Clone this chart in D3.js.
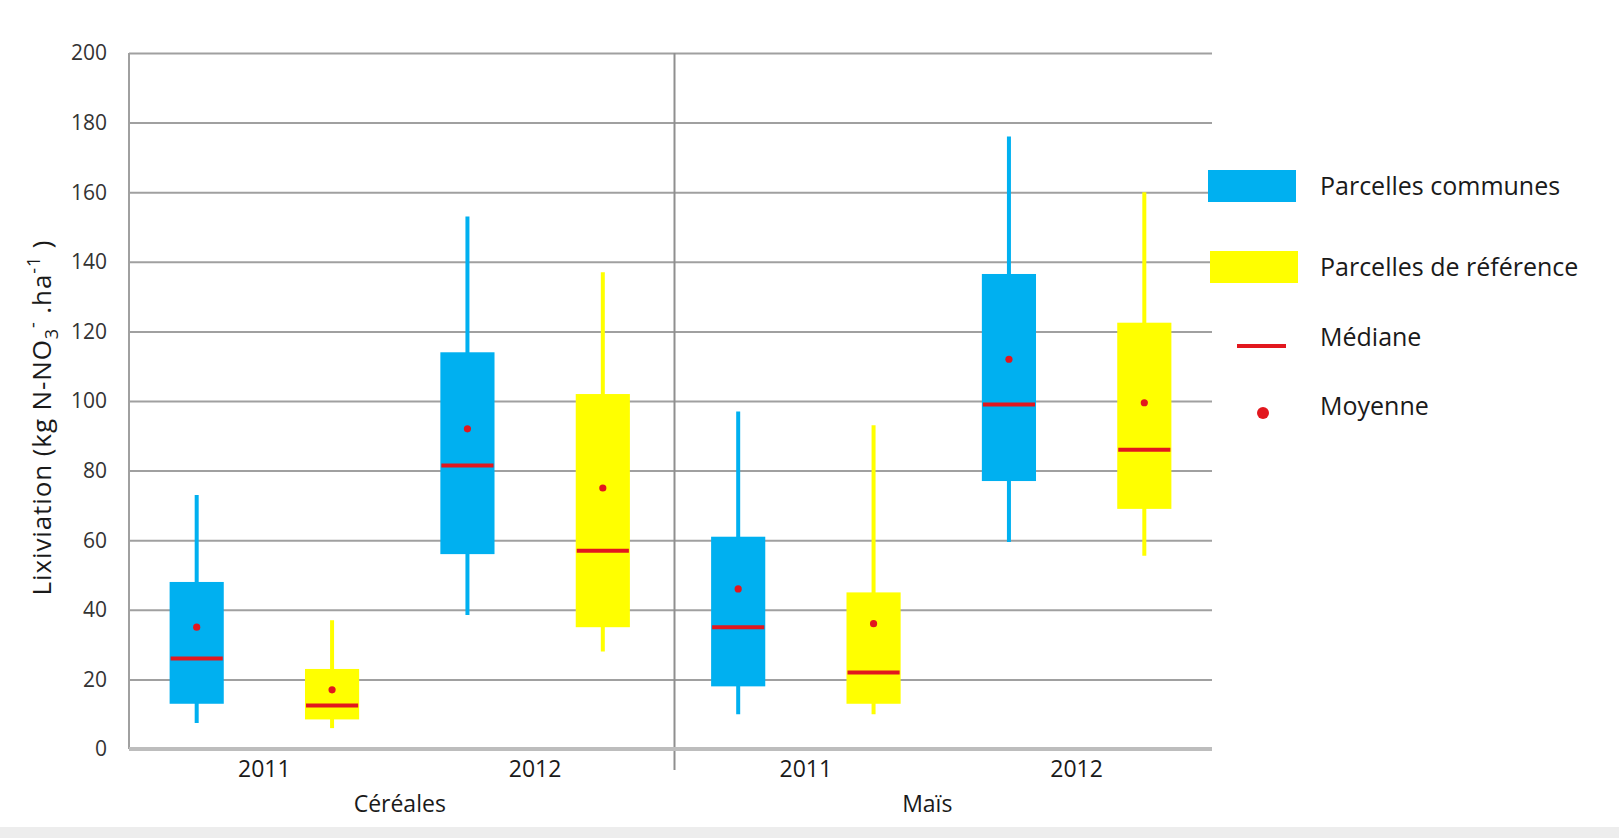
<!DOCTYPE html>
<html>
<head>
<meta charset="utf-8">
<script src="https://cdn.jsdelivr.net/npm/d3@7"></script>
<style>
  html, body { margin: 0; padding: 0; background: #fff; overflow: hidden; }
  svg { display: block; }
</style>
</head>
<body>
<div class="chart-div"></div>
<script>
// categories
var groups = ["Céréales", "Maïs"];
var years = ["2011", "2012"];
var series = ["Parcelles communes", "Parcelles de référence"];
var legendLabels = ["Parcelles communes", "Parcelles de référence", "Médiane", "Moyenne"];
var yTickValues = [0, 20, 40, 60, 80, 100, 120, 140, 160, 180, 200];

// one value per box: Céréales 2011 (communes, référence), Céréales 2012, Maïs 2011, Maïs 2012
var boxMin    = [7.5, 6,    38.5, 28,  10, 10, 59.5, 55.5];
var boxQ1     = [13,  8.5,  56,   35,  18, 13, 77,   69];
var boxMedian = [26,  12.5, 81.5, 57,  35, 22, 99,   86];
var boxQ3     = [48,  23,   114,  102, 61, 45, 136.5, 122.5];
var boxMax    = [73,  37,   153,  137, 97, 93, 176,  160];
var boxMean   = [35,  17,   92,   75,  46, 36, 112,  99.5];

var colors = {"Parcelles communes": "#00b0f0", "Parcelles de référence": "#ffff00"};
var red = "#e2171e";
var font = "'Open Sans', 'DejaVu Sans', sans-serif";

var width = 1619, height = 838;
var margin = {left: 129, top: 53, right: 407, bottom: 89};
var innerWidth = width - margin.left - margin.right;
var innerHeight = height - margin.top - margin.bottom;

// build the table the scales need
var cats = [];
groups.forEach(function(g) { years.forEach(function(y) { cats.push(g + "|" + y); }); });
var boxes = [];
cats.forEach(function(c, ci) {
  series.forEach(function(s, si) {
    var i = ci * 2 + si;
    boxes.push({cat: c, series: s, min: boxMin[i], q1: boxQ1[i], median: boxMedian[i],
                q3: boxQ3[i], max: boxMax[i], mean: boxMean[i]});
  });
});

var svg = d3.select(".chart-div").append("svg")
    .attr("width", width)
    .attr("height", height)
    .attr("font-family", font)
    .attr("fill", "#1a1a1a");

svg.append("rect").attr("x", 0).attr("y", 827).attr("width", width).attr("height", 11)
    .attr("fill", "#ededed");

var g = svg.append("g").attr("transform", "translate(" + margin.left + "," + margin.top + ")");

var xScale = d3.scaleBand().domain(cats).range([0, innerWidth]);
var xSub = d3.scaleBand().domain(series).range([0, xScale.bandwidth()]);
var groupScale = d3.scaleBand().domain(groups).range([0, innerWidth]);
var yScale = d3.scaleLinear().domain([0, 200]).range([innerHeight, 0]);

var boxW = xSub.bandwidth() * 0.4;

// gridlines
var yAxis = d3.axisLeft(yScale)
    .tickValues(yTickValues)
    .tickSize(-innerWidth)
    .tickFormat("");
var yAxisG = g.append("g").call(yAxis);
yAxisG.select(".domain").remove();
yAxisG.selectAll(".tick line").attr("stroke", "#a0a0a0").attr("stroke-width", 2);
yAxisG.selectAll(".tick text").remove();
yAxisG.selectAll(".tick").filter(function(d) { return d === 0; }).select("line").remove();

// y tick labels
g.selectAll(".y-label").data(yTickValues).enter().append("text")
    .attr("class", "y-label")
    .attr("x", -22)
    .attr("y", function(d) { return yScale(d); })
    .attr("dy", "0.35em")
    .attr("text-anchor", "end")
    .attr("font-size", 21)
    .attr("fill", "#333")
    .text(function(d) { return d; });

// left axis line
g.append("line").attr("x1", 0).attr("x2", 0)
    .attr("y1", yScale(200)).attr("y2", yScale(0))
    .attr("stroke", "#a0a0a0").attr("stroke-width", 2);

// divider between groups
g.append("line")
    .attr("x1", groupScale("Maïs") + 4).attr("x2", groupScale("Maïs") + 4)
    .attr("y1", yScale(200)).attr("y2", yScale(0) + 21)
    .attr("stroke", "#8f8f8f").attr("stroke-width", 2);

// bottom axis
g.append("line").attr("x1", 0).attr("x2", innerWidth)
    .attr("y1", yScale(0)).attr("y2", yScale(0))
    .attr("stroke", "#bdbdbd").attr("stroke-width", 4);

// year labels
g.selectAll(".year-label").data(cats).enter().append("text")
    .attr("class", "year-label")
    .attr("x", function(d) { return xScale(d) + xScale.bandwidth() / 2; })
    .attr("y", yScale(0) + 28)
    .attr("text-anchor", "middle")
    .attr("font-size", 23)
    .text(function(d) { return d.split("|")[1]; });

// group labels
g.selectAll(".group-label").data(groups).enter().append("text")
    .attr("class", "group-label")
    .attr("x", function(d, i) { return groupScale(d) + groupScale.bandwidth() / 2 - i * 14; })
    .attr("y", yScale(0) + 63)
    .attr("text-anchor", "middle")
    .attr("font-size", 23)
    .text(function(d) { return d; });

// boxes
var bx = function(d) { return xScale(d.cat) + xSub(d.series) + xSub.bandwidth() / 2; };
var bg = g.selectAll(".box").data(boxes).enter().append("g").attr("class", "box");

bg.append("line")
    .attr("x1", bx).attr("x2", bx)
    .attr("y1", function(d) { return yScale(d.max); })
    .attr("y2", function(d) { return yScale(d.min); })
    .attr("stroke", function(d) { return colors[d.series]; })
    .attr("stroke-width", 4);

bg.append("rect")
    .attr("x", function(d) { return bx(d) - boxW / 2; })
    .attr("y", function(d) { return yScale(d.q3); })
    .attr("width", boxW)
    .attr("height", function(d) { return yScale(d.q1) - yScale(d.q3); })
    .attr("fill", function(d) { return colors[d.series]; });

bg.append("line")
    .attr("x1", function(d) { return bx(d) - boxW / 2 + 1; })
    .attr("x2", function(d) { return bx(d) + boxW / 2 - 1; })
    .attr("y1", function(d) { return yScale(d.median); })
    .attr("y2", function(d) { return yScale(d.median); })
    .attr("stroke", red).attr("stroke-width", 4);

bg.append("circle")
    .attr("cx", bx)
    .attr("cy", function(d) { return yScale(d.mean); })
    .attr("r", 3.6)
    .attr("fill", red);

// y axis title
var title = svg.append("text")
    .attr("transform", "translate(51,418) rotate(-90)")
    .attr("text-anchor", "middle")
    .attr("font-size", 26)
    .attr("textLength", 355)
    .attr("lengthAdjust", "spacing");
title.append("tspan").text("Lixiviation (kg N-NO");
title.append("tspan").attr("dy", 7).attr("font-size", 18).text("3");
title.append("tspan").attr("dy", -19).attr("font-size", 18).text("-");
title.append("tspan").attr("dy", 12).text(" .ha");
title.append("tspan").attr("dy", -11).attr("font-size", 18).text("-1");
title.append("tspan").attr("dy", 11).text(" )");

// legend rows (y position of each row centre)
var legendRowY = {"Parcelles communes": 186, "Parcelles de référence": 267,
                  "Médiane": 337, "Moyenne": 406};
var legend = svg.append("g").attr("transform", "translate(1208,0)");

legend.selectAll(".leg-box").data(series).enter().append("rect")
    .attr("x", function(d, i) { return i * 2; })
    .attr("y", function(d) { return legendRowY[d] - 16; })
    .attr("width", 88).attr("height", 32)
    .attr("fill", function(d) { return colors[d]; });

legend.append("line")
    .attr("x1", 29).attr("x2", 78)
    .attr("y1", legendRowY["Médiane"] + 9).attr("y2", legendRowY["Médiane"] + 9)
    .attr("stroke", red).attr("stroke-width", 4);

legend.append("circle")
    .attr("cx", 55).attr("cy", legendRowY["Moyenne"] + 7)
    .attr("r", 6).attr("fill", red);

legend.selectAll(".leg-text").data(legendLabels).enter().append("text")
    .attr("x", 112)
    .attr("y", function(d) { return legendRowY[d]; })
    .attr("dy", "0.35em")
    .attr("font-size", 25)
    .text(function(d) { return d; });
</script>
</body>
</html>
